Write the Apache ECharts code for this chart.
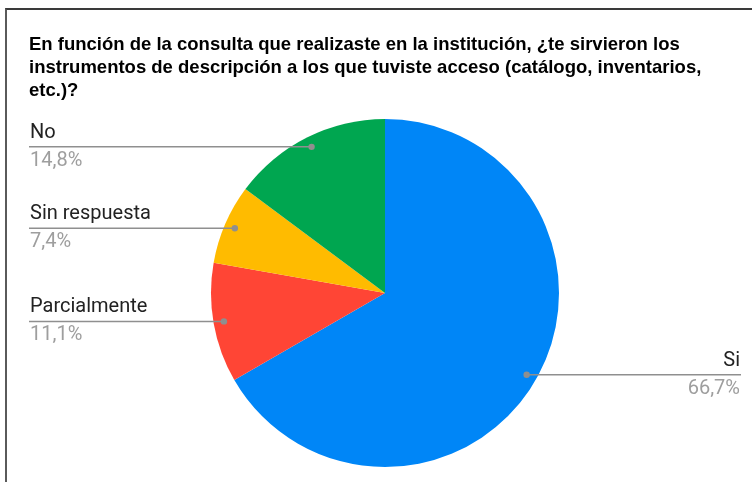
<!DOCTYPE html>
<html lang="es">
<head>
    <meta charset="UTF-8">
    <title>Instrumentos de descripción</title>
    <script src="https://cdn.jsdelivr.net/npm/echarts/dist/echarts.min.js"></script>
    <style>
        body {
            margin: 0;
            padding: 0;
            background-color: #ffffff;
            overflow: hidden;
        }
        #chart {
            width: 752px;
            height: 482px;
        }
        #frame {
            position: absolute;
            left: 5px;
            top: 8px;
            width: 800px;
            height: 500px;
            border-top: 2px solid #3a3a3a;
            border-left: 2px solid #5a5a5a;
            pointer-events: none;
        }
    </style>
</head>
<body>

<div id="chart"></div>
<div id="frame"></div>

<script>
// datos
const categories = ['Si', 'Parcialmente', 'Sin respuesta', 'No'];
const counts = [18, 3, 2, 4];
const colors = ['#0086f7', '#ff4535', '#ffbb00', '#00a650'];

const titleText = 'En función de la consulta que realizaste en la institución, ¿te sirvieron los\n' +
    'instrumentos de descripción a los que tuviste acceso (catálogo, inventarios,\n' +
    'etc.)?';

const chart = echarts.init(document.getElementById('chart'));

const CX = 385, CY = 293, R = 174;
const LEFT_X = 29, RIGHT_X = 741;
const total = counts.reduce((a, b) => a + b, 0);

// punto del conector dentro de cada porción
function dotPoint(i) {
    let before = 0;
    for (let k = 0; k < i; k++) before += counts[k];
    const mid = (before + counts[i] / 2) / total * Math.PI * 2;
    const d = R * 0.94;
    return [CX + d * Math.sin(mid), CY - d * Math.cos(mid)];
}

// conectores: línea horizontal + punto, por encima de las porciones
const connectors = [];
categories.forEach((c, i) => {
    const p = dotPoint(i);
    const endX = p[0] > CX ? RIGHT_X : LEFT_X;
    connectors.push({
        type: 'line',
        shape: { x1: p[0], y1: p[1], x2: endX, y2: p[1] },
        style: { stroke: '#8f8f8f', lineWidth: 1.5 },
        z: 100
    });
    connectors.push({
        type: 'circle',
        shape: { cx: p[0], cy: p[1], r: 3.2 },
        style: { fill: '#8f8f8f' },
        z: 101
    });
});

chart.setOption({
    animation: false,
    title: {
        text: titleText,
        left: 24,
        top: 28,
        textStyle: {
            fontFamily: 'Liberation Sans',
            fontSize: 18.5,
            fontWeight: 'bold',
            color: '#000',
            lineHeight: 23
        }
    },
    graphic: connectors,
    series: [{
        type: 'pie',
        center: [CX, CY],
        radius: R,
        startAngle: 90,
        percentPrecision: 1,
        avoidLabelOverlap: false,
        emphasis: { disabled: true },
        data: categories.map((name, i) => ({
            name: name,
            value: counts[i],
            itemStyle: { color: colors[i] }
        })),
        label: {
            show: true,
            position: 'outside',
            formatter: p => '{n|' + p.name + '}\n{p|' + p.percent.toFixed(1).replace('.', ',') + '%}',
            rich: {
                n: { fontFamily: 'Roboto', fontSize: 20, color: '#222', lineHeight: 28 },
                p: { fontFamily: 'Roboto', fontSize: 20, color: '#9e9e9e', lineHeight: 28 }
            }
        },
        labelLine: { show: false },
        labelLayout: function (params) {
            const p = dotPoint(params.dataIndex);
            const right = p[0] > CX;
            return {
                x: right ? RIGHT_X - 1 : LEFT_X + 1,
                y: p[1],
                align: right ? 'right' : 'left',
                verticalAlign: 'middle'
            };
        }
    }]
});
</script>

</body>
</html>
